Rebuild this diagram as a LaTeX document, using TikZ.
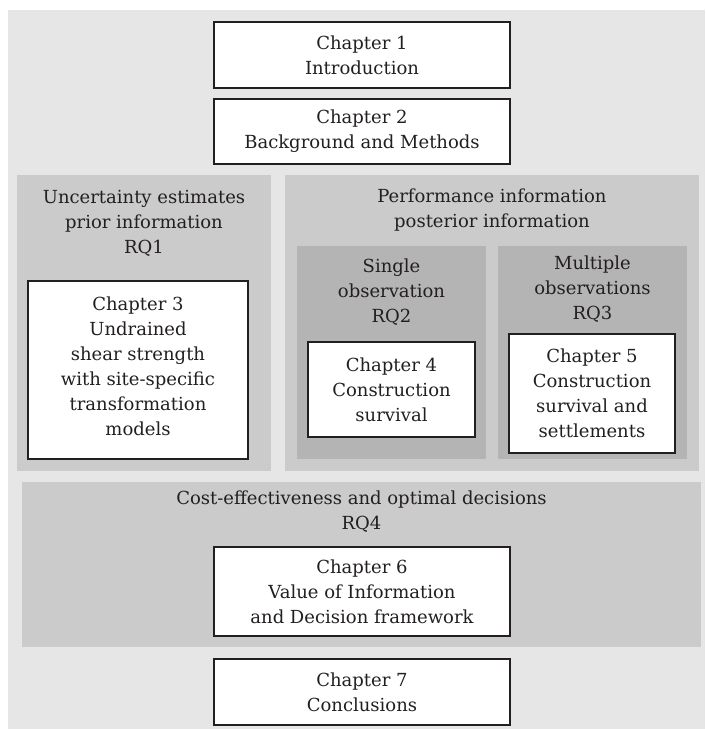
\documentclass[tikz,border=0pt]{standalone}
\usepackage{fontspec}
\setmainfont{DejaVu Serif}
\definecolor{bgA}{HTML}{E6E6E6}
\definecolor{bgB}{HTML}{CBCBCB}
\definecolor{bgC}{HTML}{B4B4B4}
\definecolor{ink}{HTML}{231F20}
\begin{document}
\begin{tikzpicture}[x=1pt,y=-1pt,
  every node/.style={inner sep=0pt, outer sep=0pt, align=center, text=ink,
    font=\fontsize{18}{25}\selectfont},
  panel/.style={fill=#1, draw=none, rectangle},
  chapbox/.style={fill=white, draw=ink, line width=1.4pt, rectangle},
  title/.style={}]
\useasboundingbox (0,0) rectangle (705,729);
\node[panel=bgA, minimum width=697pt, minimum height=719pt] (outer) at (356.5,369.5) {};
\node[chapbox, minimum width=296pt, minimum height=66pt] (c1) at (362,55) {Chapter 1\\Introduction};
\node[chapbox, minimum width=296pt, minimum height=65pt] (c2) at (362,131.5) {Chapter 2\\Background and Methods};
\node[panel=bgB, minimum width=254pt, minimum height=296pt] (gL) at (144,323) {};
\node[panel=bgB, minimum width=414pt, minimum height=296pt] (gR) at (492,323) {};
\node[panel=bgC, minimum width=189pt, minimum height=213pt] (sS) at (391.5,352.5) {};
\node[panel=bgC, minimum width=189pt, minimum height=213pt] (sM) at (592.5,352.5) {};
\node[title] (tL) at (144,223) {Uncertainty estimates\\prior information\\RQ1};
\node[title] (tR) at (492,210) {Performance information\\posterior information};
\node[title] (tS) at (391.5,292) {Single\\observation\\RQ2};
\node[title] (tM) at (592.5,289.5) {Multiple\\observations\\RQ3};
\node[chapbox, minimum width=220pt, minimum height=178pt] (c3) at (138,370) {};
\node (c3t) at (138,366) {Chapter 3\\Undrained\\shear strength\\with site-specific\\transformation\\models};
\node[chapbox, minimum width=167pt, minimum height=95pt] (c4) at (391.5,389.5) {Chapter 4\\Construction\\survival};
\node[chapbox, minimum width=166pt, minimum height=119pt] (c5) at (592,393.5) {Chapter 5\\Construction\\survival and\\settlements};
\node[panel=bgB, minimum width=679pt, minimum height=165pt] (gB) at (361.5,564.5) {};
\node[title] (tB) at (361.5,511.5) {Cost-effectiveness and optimal decisions\\RQ4};
\node[chapbox, minimum width=296pt, minimum height=89pt] (c6) at (362,591.5) {Chapter 6\\Value of Information\\and Decision framework};
\node[chapbox, minimum width=296pt, minimum height=66pt] (c7) at (362,692) {Chapter 7\\Conclusions};
\end{tikzpicture}
\end{document}
